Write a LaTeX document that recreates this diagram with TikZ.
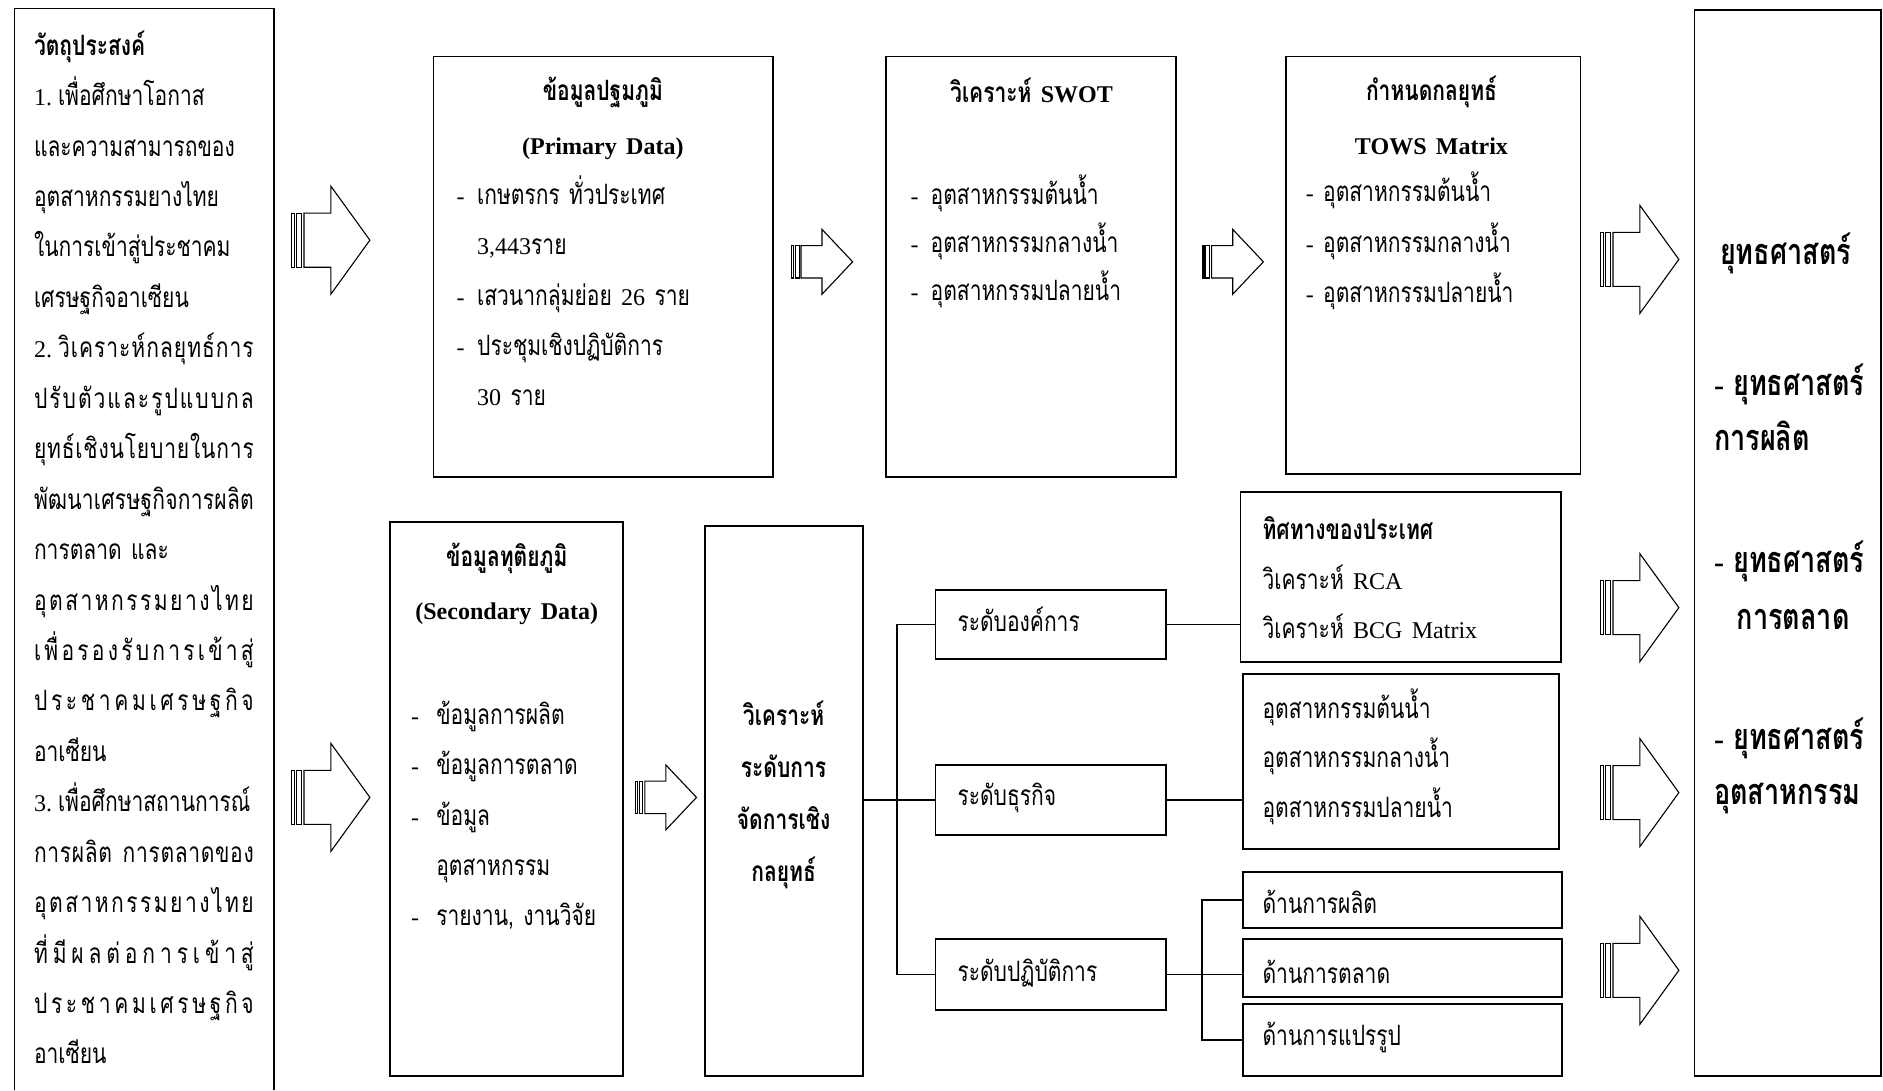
\documentclass[tikz,border=0pt]{standalone}
\usepackage{fontspec}
\setmainfont{Liberation Serif}
\newfontfamily\thai[Script=Thai, FakeStretch=0.75]{Loma}
\usetikzlibrary{fit}

% Latin words inside Thai text
\newcommand\en[1]{{\rmfamily\fontsize{12}{14}\selectfont #1}}
\newcommand\enbig[1]{{\rmfamily\fontsize{15}{18}\selectfont #1}}
% body text and bold heading fonts
\newcommand\tf{\thai\fontsize{14}{25.2}\selectfont}
\newcommand\tfb{\thai\bfseries\fontsize{14}{27}\selectfont}
\newcommand\tfbig{\thai\bfseries\fontsize{18}{20}\selectfont}
% list dash and hanging indent
\newcommand\dsh[1]{\makebox[#1][l]{\en{-}}}
\newcommand\ind[1]{\hspace*{#1}}
% distributed (fully justified) line of the objectives column
\newcommand\jl[1]{\makebox[109.8pt][s]{#1}}
\newcommand\xx{\hfil}
% numbered item label
\newcommand\num[1]{\en{#1}\hspace{3pt}}

\tikzset{
  box/.style={draw, line width=0.9pt, inner sep=0pt, fit={#1}},
  conn/.style={line width=0.9pt},
  arw/.style={line width=0.55pt},
  tl/.style={anchor=base west, inner sep=0pt, align=left, text width=#1},
  tc/.style={anchor=base, inner sep=0pt, align=center, text width=#1},
  pics/sarrow/.style n args={2}{code={
    \draw[arw] (0,{-#2/4}) rectangle ({#1/32},{#2/4});
    \draw[arw] ({#1/16},{-#2/4}) rectangle ({#1/8},{#2/4});
    \draw[arw] ({5*#1/32},{-#2/4}) -- ({#1/2},{-#2/4}) -- ({#1/2},{-#2/2})
      -- (#1,0) -- ({#1/2},{#2/2}) -- ({#1/2},{#2/4}) -- ({5*#1/32},{#2/4}) -- cycle;
  }}
}

\begin{document}
\begin{tikzpicture}[x=0.6pt,y=-0.6pt]
\useasboundingbox (0,0) rectangle (1568,908);

% objectives column (open at the bottom)
\draw[conn] (12,908) -- (12,7) -- (228,7) -- (228,908);
\node[tl=135pt, font=\tf] (obj) at (28,46) {\textbf{วัตถุประสงค์}\\
\num{1.}เพื่อศึกษาโอกาส\\
และความสามารถของ\\
อุตสาหกรรมยางไทย\\
ในการเข้าสู่ประชาคม\\
เศรษฐกิจอาเซียน\\
\jl{\num{2.}วิ\xx เ\xx ค\xx ร\xx า\xx ะ\xx ห์\xx ก\xx ล\xx ยุ\xx ท\xx ธ์\xx ก\xx า\xx ร}\\
\jl{ป\xx รั\xx บ\xx ตั\xx ว\xx แ\xx ล\xx ะ\xx รู\xx ป\xx แ\xx บ\xx บ\xx ก\xx ล}\\
\jl{ยุ\xx ท\xx ธ์\xx เ\xx ชิ\xx ง\xx น\xx โ\xx ย\xx บ\xx า\xx ย\xx ใ\xx น\xx ก\xx า\xx ร}\\
\jl{พั\xx ฒ\xx น\xx า\xx เ\xx ศ\xx ร\xx ษ\xx ฐ\xx กิ\xx จ\xx ก\xx า\xx ร\xx ผ\xx ลิ\xx ต}\\
การตลาด และ\\
\jl{อุ\xx ต\xx ส\xx า\xx ห\xx ก\xx ร\xx ร\xx ม\xx ย\xx า\xx ง\xx ไ\xx ท\xx ย}\\
\jl{เ\xx พื่\xx อ\xx ร\xx อ\xx ง\xx รั\xx บ\xx ก\xx า\xx ร\xx เ\xx ข้\xx า\xx สู่}\\
\jl{ป\xx ร\xx ะ\xx ช\xx า\xx ค\xx ม\xx เ\xx ศ\xx ร\xx ษ\xx ฐ\xx กิ\xx จ}\\
อาเซียน\\
\num{3.}เพื่อศึกษาสถานการณ์\\
\jl{ก\xx า\xx ร\xx ผ\xx ลิ\xx ต\xx\ \xx ก\xx า\xx ร\xx ต\xx ล\xx า\xx ด\xx ข\xx อ\xx ง}\\
\jl{อุ\xx ต\xx ส\xx า\xx ห\xx ก\xx ร\xx ร\xx ม\xx ย\xx า\xx ง\xx ไ\xx ท\xx ย}\\
\jl{ที่\xx มี\xx ผ\xx ล\xx ต่\xx อ\xx ก\xx า\xx ร\xx เ\xx ข้\xx า\xx สู่}\\
\jl{ป\xx ร\xx ะ\xx ช\xx า\xx ค\xx ม\xx เ\xx ศ\xx ร\xx ษ\xx ฐ\xx กิ\xx จ}\\
อาเซียน};

% main boxes
\node[box={(361,47) (644,397)}] (prim) {};
\node[box={(738,47) (979,397)}] (swot) {};
\node[box={(1071,47) (1316,395)}] (tows) {};
\node[box={(1411,8) (1566.5,896)}] (strategy) {};
\node[box={(325,435) (519,896)}] (sec) {};
\node[box={(587,438) (718.5,896)}] (mgmt) {};
\node[box={(779,491) (971,549)}] (lvl1) {};
\node[box={(779,637) (971,695)}] (lvl2) {};
\node[box={(779,782) (971,841)}] (lvl3) {};
\node[box={(1033,410) (1300,551)}] (r1) {};
\node[box={(1035,561) (1298,707)}] (r2) {};
\node[box={(1035,726) (1301,773)}] (r3) {};
\node[box={(1035,782) (1301,830)}] (r4) {};
\node[box={(1035,836) (1301,896)}] (r5) {};

% primary data
\node[tc=160pt, font=\tfb] (primT) at (502,84) {ข้อมูลปฐมภูมิ\\ \en{(Primary Data)}};
\node[tl=165pt, font=\tf] (primI) at (380,170) {\dsh{10.2pt}เกษตรกร ทั่วประเทศ\\
\ind{10.2pt}\en{3,443}ราย\\
\dsh{10.2pt}เสวนากลุ่มย่อย \en{26} ราย\\
\dsh{10.2pt}ประชุมเชิงปฏิบัติการ\\
\ind{10.2pt}\en{30} ราย};

% SWOT
\node[tc=140pt, font=\tfb] (swotT) at (859,85) {วิเคราะห์ \en{SWOT}};
\node[tl=135pt, font={\tf\setlength\baselineskip{24pt}}] (swotI) at (758,170) {\dsh{10pt}อุตสาหกรรมต้นน้ำ\\
\dsh{10pt}อุตสาหกรรมกลางน้ำ\\
\dsh{10pt}อุตสาหกรรมปลายน้ำ};

% TOWS
\node[tc=140pt, font=\tfb] (towsT) at (1192,84) {กำหนดกลยุทธ์\\ \en{TOWS Matrix}};
\node[tl=135pt, font=\tf] (towsI) at (1087,168) {\en{-} อุตสาหกรรมต้นน้ำ\\
\en{-} อุตสาหกรรมกลางน้ำ\\
\en{-} อุตสาหกรรมปลายน้ำ};

% strategies
\node[anchor=base west, inner sep=0pt, font=\tfbig] (sT) at (1432,220) {ยุทธศาสตร์};
\node[anchor=base west, inner sep=0pt, font=\tfbig] (s1a) at (1427,329) {\enbig{-} ยุทธศาสตร์};
\node[anchor=base west, inner sep=0pt, font=\tfbig] (s1b) at (1427,375) {การผลิต};
\node[anchor=base west, inner sep=0pt, font=\tfbig] (s2a) at (1427,477) {\enbig{-} ยุทธศาสตร์};
\node[anchor=base west, inner sep=0pt, font=\tfbig] (s2b) at (1446,524) {การตลาด};
\node[anchor=base west, inner sep=0pt, font=\tfbig] (s3a) at (1427,624) {\enbig{-} ยุทธศาสตร์};
\node[anchor=base west, inner sep=0pt, font=\tfbig] (s3b) at (1427,670) {อุตสาหกรรม};

% secondary data
\node[tc=120pt, font={\tfb\setlength\baselineskip{26.4pt}}] (secT) at (422,472) {ข้อมูลทุติยภูมิ\\ \en{(Secondary Data)}};
\node[tl=110pt, font=\tf] (secI) at (342,603) {\dsh{12.6pt}ข้อมูลการผลิต\\
\dsh{12.6pt}ข้อมูลการตลาด\\
\dsh{12.6pt}ข้อมูล\\
\ind{12.6pt}อุตสาหกรรม\\
\dsh{12.6pt}รายงาน, งานวิจัย};

% strategic management analysis
\node[tc=76pt, font={\tfb\setlength\baselineskip{26pt}}] (mgmtT) at (652.5,604) {วิเคราะห์\\ ระดับการ\\ จัดการเชิง\\ กลยุทธ์};

% levels
\node[anchor=base west, inner sep=0pt, font=\tf] (l1t) at (797,526) {ระดับองค์การ};
\node[anchor=base west, inner sep=0pt, font=\tf] (l2t) at (797,671) {ระดับธุรกิจ};
\node[anchor=base west, inner sep=0pt, font=\tf] (l3t) at (797,817) {ระดับปฏิบัติการ};

\node[tl=150pt, font={\tf\setlength\baselineskip{24.9pt}}] (r1t) at (1051,449) {\textbf{ทิศทางของประเทศ}\\
วิเคราะห์ \en{RCA}\\
วิเคราะห์ \en{BCG Matrix}};
\node[tl=150pt, font={\tf\setlength\baselineskip{24.9pt}}] (r2t) at (1051,598) {อุตสาหกรรมต้นน้ำ\\
อุตสาหกรรมกลางน้ำ\\
อุตสาหกรรมปลายน้ำ};
\node[anchor=base west, inner sep=0pt, font=\tf] (r3t) at (1051,761) {ด้านการผลิต};
\node[anchor=base west, inner sep=0pt, font=\tf] (r4t) at (1051,819) {ด้านการตลาด};
\node[anchor=base west, inner sep=0pt, font=\tf] (r5t) at (1051,871) {ด้านการแปรรูป};

% tree connectors
\coordinate (j1) at (747,0);
\coordinate (j2) at (1001,0);
\draw[conn] (mgmt.east |- lvl2.west) -- (lvl2.west);
\draw[conn] (lvl1.west) -- (lvl1.west -| j1) -- (lvl3.west -| j1) -- (lvl3.west);
\draw[conn] (lvl1.east) -- (lvl1.east -| r1.west);
\draw[conn] (lvl2.east) -- (lvl2.east -| r2.west);
\draw[conn] (lvl3.east) -- (lvl3.east -| r4.west);
\draw[conn] (r3.west) -- (r3.west -| j2) -- (r5.west -| j2) -- (r5.west);

% striped block arrows
\pic (a1) at (243,200) {sarrow={65}{90}};
\pic (a2) at (243,664) {sarrow={65}{90}};
\pic (a3) at (659,218) {sarrow={51}{54}};
\pic (a4) at (1001,218) {sarrow={51}{54}};
\pic (a9) at (529,664) {sarrow={51}{54}};
\pic (a5) at (1333,216) {sarrow={65}{90}};
\pic (a6) at (1333,506) {sarrow={65}{90}};
\pic (a7) at (1333,660) {sarrow={65}{90}};
\pic (a8) at (1333,808) {sarrow={65}{90}};
\end{tikzpicture}
\end{document}
